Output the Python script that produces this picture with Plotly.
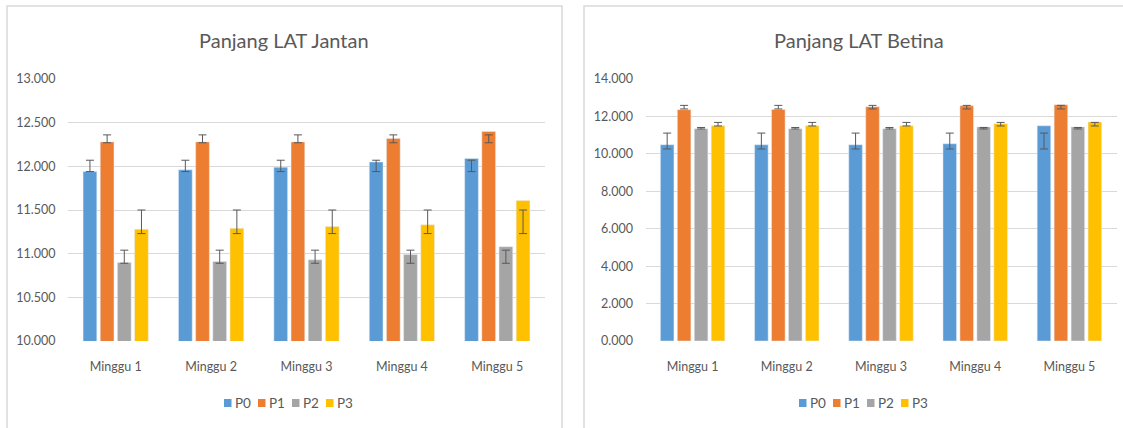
import plotly.graph_objects as go

categories = ["Minggu 1", "Minggu 2", "Minggu 3", "Minggu 4", "Minggu 5"]
series = ["P0", "P1", "P2", "P3"]
colors = ["#5B9BD5", "#ED7D31", "#A5A5A5", "#FFC000"]

# Panjang LAT Jantan
jantan_P0 = [11.94, 11.96, 11.99, 12.05, 12.09]
jantan_P1 = [12.28, 12.28, 12.28, 12.32, 12.40]
jantan_P2 = [10.90, 10.91, 10.93, 10.99, 11.08]
jantan_P3 = [11.28, 11.29, 11.31, 11.33, 11.61]
jantan_err_lo = [11.94, 12.27, 10.89, 11.23]
jantan_err_hi = [12.07, 12.36, 11.04, 11.50]

# Panjang LAT Betina
betina_P0 = [10.49, 10.49, 10.49, 10.54, 11.50]
betina_P1 = [12.36, 12.37, 12.52, 12.57, 12.62]
betina_P2 = [11.34, 11.34, 11.34, 11.44, 11.44]
betina_P3 = [11.50, 11.50, 11.50, 11.61, 11.70]
betina_err_lo = [10.26, 12.40, 11.33, 11.49]
betina_err_hi = [11.11, 12.59, 11.41, 11.68]

W, H = 1123, 428
fig = go.Figure()

def px_x(p):
    return p / W

def px_y(p):
    return 1 - p / H

jantan = [jantan_P0, jantan_P1, jantan_P2, jantan_P3]
betina = [betina_P0, betina_P1, betina_P2, betina_P3]

for i, name in enumerate(series):
    vals = jantan[i]
    fig.add_trace(go.Bar(
        x=categories, y=vals, name=name, marker_color=colors[i], showlegend=False,
        xaxis="x", yaxis="y",
        error_y=dict(type="data", symmetric=False,
                     array=[jantan_err_hi[i] - v for v in vals],
                     arrayminus=[v - jantan_err_lo[i] for v in vals],
                     color="#595959", thickness=1, width=4),
    ))
for i, name in enumerate(series):
    vals = betina[i]
    fig.add_trace(go.Bar(
        x=categories, y=vals, name=name, marker_color=colors[i], showlegend=False,
        xaxis="x2", yaxis="y2",
        error_y=dict(type="data", symmetric=False,
                     array=[betina_err_hi[i] - v for v in vals],
                     arrayminus=[v - betina_err_lo[i] for v in vals],
                     color="#595959", thickness=1, width=4),
    ))

font_family = "Lato, 'Open Sans', sans-serif"
axis_font = dict(family=font_family, size=12.5, color="#595959")

annotations = [
    dict(text="Panjang LAT Jantan", x=px_x(284), y=px_y(40), xref="paper", yref="paper",
         showarrow=False, xanchor="center", yanchor="middle",
         font=dict(family=font_family, size=20, color="#595959")),
    dict(text="Panjang LAT Betina", x=px_x(859), y=px_y(40), xref="paper", yref="paper",
         showarrow=False, xanchor="center", yanchor="middle",
         font=dict(family=font_family, size=20, color="#595959")),
]
shapes = [
    dict(type="rect", xref="paper", yref="paper", x0=px_x(7), x1=px_x(562),
         y0=px_y(440), y1=px_y(6), line=dict(color="#D9D9D9", width=1.5)),
    dict(type="rect", xref="paper", yref="paper", x0=px_x(584), x1=px_x(1135),
         y0=px_y(440), y1=px_y(6), line=dict(color="#D9D9D9", width=1.5)),
]
# compact legends (one per chart), Excel style
for start in (224, 799):
    for i, name in enumerate(series):
        x0 = start + i * 34
        shapes.append(dict(type="rect", xref="paper", yref="paper",
                           x0=px_x(x0), x1=px_x(x0 + 7.5), y0=px_y(407), y1=px_y(399),
                           fillcolor=colors[i], line=dict(width=0)))
        annotations.append(dict(
            text=name, x=px_x(x0 + 9), y=px_y(403), xref="paper", yref="paper",
            showarrow=False, xanchor="left", yanchor="middle",
            font=dict(family=font_family, size=13.5, color="#595959")))

fig.update_layout(
    width=W, height=H,
    margin=dict(l=0, r=0, t=0, b=0, autoexpand=False),
    paper_bgcolor="white", plot_bgcolor="white",
    barmode="group", bargap=0.28, bargroupgap=0.2,
    font=dict(family=font_family, color="#595959"),
    showlegend=False,
    xaxis=dict(domain=[px_x(68), px_x(545)], anchor="y", showgrid=False,
               tickfont=axis_font, ticks="outside", ticklen=14, tickcolor="rgba(0,0,0,0)",
               showline=False, automargin=False),
    yaxis=dict(domain=[px_y(341), px_y(79)], anchor="x", range=[10, 13],
               dtick=0.5, tickformat=".3f", gridcolor="#D9D9D9", gridwidth=1,
               tickfont=axis_font, zeroline=False, showline=False, automargin=False,
               ticks="outside", ticklen=9, tickcolor="rgba(0,0,0,0)"),
    xaxis2=dict(domain=[px_x(645.5), px_x(1116.5)], anchor="y2", showgrid=False,
                tickfont=axis_font, ticks="outside", ticklen=14, tickcolor="rgba(0,0,0,0)",
                showline=False, automargin=False),
    yaxis2=dict(domain=[px_y(341), px_y(79)], anchor="x2", range=[0, 14],
                dtick=2, tickformat=".3f", gridcolor="#D9D9D9", gridwidth=1,
                tickfont=axis_font, zeroline=False, showline=False, automargin=False,
                ticks="outside", ticklen=9, tickcolor="rgba(0,0,0,0)"),
    annotations=annotations,
    shapes=shapes,
)

fig.write_html("out.html", config={"displayModeBar": False},
               post_script="document.body.style.margin='0';document.body.style.overflow='hidden';")
